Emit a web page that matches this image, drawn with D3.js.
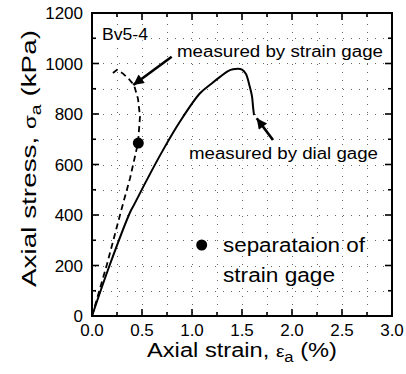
<!DOCTYPE html>
<html>
<head>
<meta charset="utf-8">
<script src="https://cdn.jsdelivr.net/npm/d3@7"></script>
<style>
  body { margin: 0; background: #fff; }
  svg text { font-family: "Liberation Sans", Arial, sans-serif; fill: #000; }
</style>
</head>
<body>
<div id="chart"></div>
<script>
// strain (%) vs stress (kPa)
const dialGage = [
  [0, 0], [0.18, 205], [0.38, 410], [0.42, 440], [0.55, 540], [0.7, 650],
  [0.88, 770], [1.08, 882], [1.2, 922], [1.28, 947], [1.36, 970], [1.41, 977],
  [1.5, 976], [1.54, 958], [1.57, 920], [1.6, 870], [1.61, 830], [1.62, 796]
];
const strainGage = [
  [0, 0], [0.15, 205], [0.3, 430], [0.38, 545], [0.46, 685], [0.48, 790],
  [0.46, 860], [0.42, 915], [0.37, 938], [0.31, 960], [0.25, 975], [0.19, 956]
];
const separation = [[0.463, 685]];
const xTickLabels = [0, 0.5, 1, 1.5, 2, 2.5, 3];
const yTickLabels = [0, 200, 400, 600, 800, 1000, 1200];

const W = 406, H = 374;
const margin = {top: 13, right: 14, bottom: 58, left: 92};
const iw = W - margin.left - margin.right;
const ih = H - margin.top - margin.bottom;

const svg = d3.select('#chart').append('svg')
  .attr('width', W)
  .attr('height', H);

const x = d3.scaleLinear().domain([0, 3]).range([0, iw]);
const y = d3.scaleLinear().domain([0, 1200]).range([ih, 0]);

const g = svg.append('g').attr('transform', `translate(${margin.left},${margin.top})`);

// dotted grid
const grid = g.append('g').attr('stroke', '#666').attr('stroke-width', 1)
  .attr('stroke-dasharray', '1,7').attr('shape-rendering', 'crispEdges');
grid.selectAll('line.v').data(d3.range(0.25, 3, 0.25)).join('line')
  .attr('x1', d => x(d) + 0.5).attr('x2', d => x(d) + 0.5).attr('y1', 3).attr('y2', ih);
grid.selectAll('line.h').data(d3.range(100, 1200, 100)).join('line')
  .attr('x1', 3).attr('x2', iw).attr('y1', d => Math.round(y(d)) + 0.5).attr('y2', d => Math.round(y(d)) + 0.5);

// inward ticks on all four sides
const ticks = g.append('g').attr('stroke', '#000').attr('stroke-width', 1.6);
d3.range(0.25, 3, 0.25).forEach(v => {
  const len = (Math.round(v * 100) % 50 === 0) ? 7 : 4;
  ticks.append('line').attr('x1', x(v)).attr('x2', x(v)).attr('y1', ih).attr('y2', ih - len);
  ticks.append('line').attr('x1', x(v)).attr('x2', x(v)).attr('y1', 0).attr('y2', len);
});
d3.range(100, 1200, 100).forEach(v => {
  const len = (v % 200 === 0) ? 7 : 4;
  ticks.append('line').attr('x1', 0).attr('x2', len).attr('y1', y(v)).attr('y2', y(v));
  ticks.append('line').attr('x1', iw).attr('x2', iw - len).attr('y1', y(v)).attr('y2', y(v));
});

// tick labels
g.selectAll('text.xl').data(xTickLabels).join('text')
  .attr('x', d => x(d)).attr('y', ih + 20)
  .attr('text-anchor', 'middle')
  .attr('font-size', 17)
  .text(d => d.toFixed(1));
g.selectAll('text.yl').data(yTickLabels).join('text')
  .attr('x', -9).attr('y', d => y(d) + 6)
  .attr('text-anchor', 'end')
  .attr('font-size', 17)
  .text(d => d);

// frame
g.append('rect').attr('width', iw).attr('height', ih)
  .attr('fill', 'none').attr('stroke', '#000').attr('stroke-width', 2);

// curves
const lineS = d3.line().x(d => x(d[0])).y(d => y(d[1])).curve(d3.curveCatmullRom);
const lineL = d3.line().x(d => x(d[0])).y(d => y(d[1]));
g.append('path').datum(dialGage)
  .attr('d', lineS).attr('fill', 'none').attr('stroke', '#000').attr('stroke-width', 2);
g.append('path').datum(strainGage)
  .attr('d', lineL).attr('fill', 'none').attr('stroke', '#000').attr('stroke-width', 1.8)
  .attr('stroke-dasharray', '6,4');

g.selectAll('circle.sep').data(separation).join('circle')
  .attr('cx', d => x(d[0])).attr('cy', d => y(d[1])).attr('r', 5.5).attr('fill', '#000');

// arrows
svg.append('defs').append('marker')
  .attr('id', 'ah').attr('viewBox', '0 0 10 10').attr('refX', 10).attr('refY', 5)
  .attr('markerWidth', 5.5).attr('markerHeight', 4).attr('orient', 'auto')
  .attr('markerUnits', 'strokeWidth')
  .append('path').attr('d', 'M0,0L10,5L0,10z').attr('fill', '#000');

g.append('line')
  .attr('x1', x(0.797)).attr('y1', y(1027)).attr('x2', x(0.413)).attr('y2', y(915))
  .attr('stroke', '#000').attr('stroke-width', 2.6).attr('marker-end', 'url(#ah)');
g.append('line')
  .attr('x1', x(1.81)).attr('y1', y(697)).attr('x2', x(1.647)).attr('y2', y(783))
  .attr('stroke', '#000').attr('stroke-width', 2.6).attr('marker-end', 'url(#ah)');

// annotations (source lettering is slightly wide, so lengths are pinned)
function label(px, py, size, len, str) {
  g.append('text').attr('x', px - margin.left).attr('y', py - margin.top)
    .attr('font-size', size)
    .attr('textLength', len).attr('lengthAdjust', 'spacingAndGlyphs')
    .attr('stroke', '#fff').attr('stroke-width', 3).attr('paint-order', 'stroke')
    .text(str);
}
label(102, 40, 16, 46, 'Bv5-4');
label(177, 57, 16, 206, 'measured by strain gage');
label(189, 159, 16, 189, 'measured by dial gage');
g.append('circle').attr('cx', 201.7 - margin.left).attr('cy', 245 - margin.top).attr('r', 5.5).attr('fill', '#000');
label(223, 252, 20, 142, 'separataion of');
label(223, 282, 20, 112, 'strain gage');

// axis titles
const xt = svg.append('text')
  .attr('x', 147).attr('y', 357)
  .attr('font-size', 20)
  .attr('textLength', 190).attr('lengthAdjust', 'spacingAndGlyphs');
xt.append('tspan').text('Axial strain,  ');
xt.append('tspan').attr('font-size', 16).text('ε');
xt.append('tspan').attr('dy', 5).attr('font-size', 14).text('a');
xt.append('tspan').attr('dy', -5).text(' (%)');

const yt = svg.append('text')
  .attr('transform', `translate(36,287) rotate(-90)`)
  .attr('font-size', 20)
  .attr('textLength', 257).attr('lengthAdjust', 'spacingAndGlyphs');
yt.append('tspan').text('Axial stress,  ');
yt.append('tspan').attr('font-size', 16).text('σ');
yt.append('tspan').attr('dy', 5).attr('font-size', 14).text('a');
yt.append('tspan').attr('dy', -5).text(' (kPa)');
</script>
</body>
</html>
